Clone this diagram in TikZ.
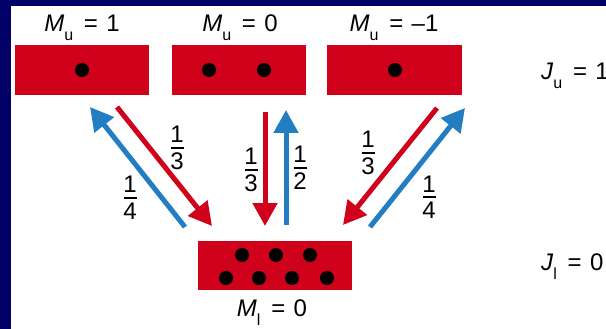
\documentclass[tikz,border=0pt]{standalone}
\usepackage{fontspec}
\setmainfont{Liberation Sans}
\usetikzlibrary{arrows.meta}
\definecolor{bgnavy}{RGB}{0,0,102}
\definecolor{lvred}{RGB}{208,2,27}
\definecolor{arblue}{RGB}{35,125,195}
\newcommand\qlab[3]{\textit{#1}\raisebox{-9pt}{\fontsize{16}{16}\selectfont #2}\hspace{0.45em}=\hspace{0.35em}#3}
\newcommand\qfr[2]{\vbox{\offinterlineskip\halign{\hfil##\hfil\cr #1\cr\noalign{\kern4pt}\rule{13pt}{2pt}\cr\noalign{\kern4pt}#2\cr}}}
\begin{document}
\begin{tikzpicture}[x=1pt,y=-1pt,
  level/.style={fill=lvred, draw=none, minimum height=50pt, inner sep=0pt},
  dot/.style={circle, fill=black, minimum size=14pt, inner sep=0pt},
  lbl/.style={font=\fontsize{24}{26}\selectfont, inner sep=0pt},
  frl/.style={font=\fontsize{24}{26}\selectfont, inner sep=0pt},
  redarr/.style={draw=lvred, line width=5pt, -{Triangle[length=23pt,width=24pt]}},
  bluearr/.style={draw=arblue, line width=5pt, -{Triangle[length=23pt,width=24pt]}}]
\useasboundingbox (0,0) rectangle (606,329);
\fill[bgnavy] (0,0) rectangle (606,329);
\fill[white] (11,6) rectangle (606,329);

% upper levels
\node[level, minimum width=134pt] (b1) at (82,70) {};
\node[level, minimum width=134pt] (b2) at (239,70) {};
\node[level, minimum width=135pt] (b3) at (394.5,70) {};
\node[level, minimum width=154pt, minimum height=49pt] (b0) at (275,265.5) {};

% dots
\node[dot] (d1) at (82,70) {};
\node[dot] (d2a) at (209,70) {};
\node[dot] (d2b) at (264,70) {};
\node[dot] (d3) at (395,70) {};
\node[dot] (e1) at (242,255) {};
\node[dot] (e2) at (276,255) {};
\node[dot] (e3) at (310,255) {};
\node[dot] (e4) at (226,278) {};
\node[dot] (e5) at (259,278) {};
\node[dot] (e6) at (292,278) {};
\node[dot] (e7) at (327,278) {};

% labels
\node[lbl, anchor=base] (m1) at (82,32) {\qlab{M}{u}{1}};
\node[lbl, anchor=base] (m2) at (240,32) {\qlab{M}{u}{0}};
\node[lbl, anchor=base] (m3) at (394,32) {\qlab{M}{u}{--1}};
\node[lbl, anchor=base] (m0) at (272,316) {\qlab{M}{l}{0}};
\node[lbl, anchor=base west] (ju) at (541,80) {\qlab{J}{u}{1}};
\node[lbl, anchor=base west] (jl) at (541,270) {\qlab{J}{l}{0}};

% arrow end points
\coordinate (lbS) at (185,227); \coordinate (lbE) at (90,107);
\coordinate (lrS) at (117,107); \coordinate (lrE) at (212,226);
\coordinate (mrS) at (265,112); \coordinate (mrE) at (265,226);
\coordinate (mbS) at (286,225); \coordinate (mbE) at (286,110);
\coordinate (rrS) at (437,108); \coordinate (rrE) at (343,225);
\coordinate (rbS) at (370,227); \coordinate (rbE) at (465,108);

\draw[bluearr] (lbS) -- (lbE);
\draw[redarr] (lrS) -- (lrE);
\draw[redarr] (mrS) -- (mrE);
\draw[bluearr] (mbS) -- (mbE);
\draw[redarr] (rrS) -- (rrE);
\draw[bluearr] (rbS) -- (rbE);

% fractions
\node[frl] (f1) at (177,148) {\qfr{1}{3}};
\node[frl] (f2) at (130,198) {\qfr{1}{4}};
\node[frl] (f3) at (251,170) {\qfr{1}{3}};
\node[frl] (f4) at (300,168) {\qfr{1}{2}};
\node[frl] (f5) at (368,153) {\qfr{1}{3}};
\node[frl] (f6) at (429,197) {\qfr{1}{4}};
\end{tikzpicture}
\end{document}
